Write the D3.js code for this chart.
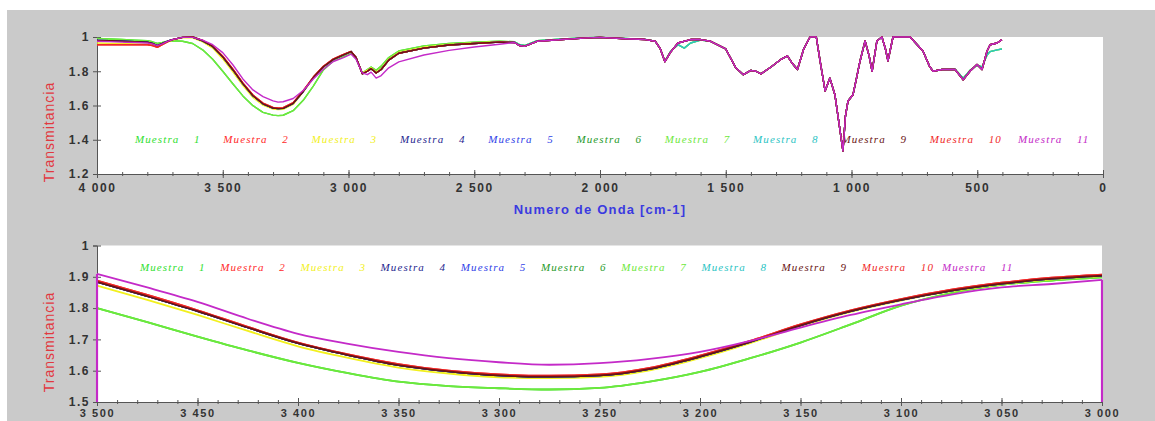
<!DOCTYPE html>
<html>
<head>
<meta charset="utf-8">
<script src="https://cdn.jsdelivr.net/npm/d3@7"></script>
<style>
  html, body { margin: 0; padding: 0; background: #fff; }
  svg { display: block; }
</style>
</head>
<body>
<svg id="fig" width="1155" height="421"></svg>
<script>
// ---------- Espectros IR: número de onda [cm-1] y transmitancia ----------

// Tramo alto (4000 -> 2400 cm-1), un perfil por grupo de muestras
const cabezaComun = [[4000,1.980],[3950,1.978],[3900,1.975],[3850,1.972],[3800,1.970],[3780,1.963],[3760,1.950],[3740,1.962],[3720,1.975],[3700,1.985],[3660,1.998],[3620,2.000],[3580,1.978],[3540,1.945],[3500,1.884],[3460,1.809],[3420,1.728],[3380,1.657],[3340,1.610],[3300,1.585],[3280,1.582],[3260,1.583],[3220,1.613],[3180,1.682],[3140,1.763],[3100,1.826],[3060,1.869],[3020,1.896],[2990,1.915],[2970,1.880],[2945,1.785],[2925,1.800],[2910,1.815],[2890,1.790],[2870,1.810],[2840,1.865],[2800,1.905],[2700,1.935],[2600,1.953],[2500,1.962],[2400,1.970]];
const cabezaMuestra1 = [[4000,1.992],[3950,1.988],[3900,1.985],[3850,1.982],[3800,1.978],[3780,1.972],[3760,1.962],[3740,1.968],[3720,1.975],[3700,1.978],[3660,1.975],[3620,1.962],[3580,1.925],[3540,1.870],[3500,1.800],[3460,1.727],[3420,1.656],[3380,1.599],[3340,1.560],[3300,1.544],[3280,1.541],[3260,1.543],[3220,1.570],[3180,1.630],[3140,1.713],[3100,1.808],[3060,1.862],[3020,1.886],[2990,1.905],[2970,1.875],[2945,1.790],[2925,1.810],[2910,1.825],[2890,1.805],[2870,1.830],[2840,1.880],[2800,1.918],[2700,1.948],[2600,1.963],[2500,1.970],[2400,1.976]];
const cabezaMuestra2 = [[4000,1.955],[3950,1.955],[3900,1.955],[3850,1.955],[3800,1.955],[3780,1.950],[3760,1.940],[3740,1.955],[3720,1.972],[3700,1.985],[3660,1.998],[3620,2.000],[3580,1.980],[3540,1.948],[3500,1.888],[3460,1.813],[3420,1.732],[3380,1.661],[3340,1.614],[3300,1.589],[3280,1.586],[3260,1.587],[3220,1.617],[3180,1.686],[3140,1.766],[3100,1.829],[3060,1.872],[3020,1.898],[2990,1.916],[2970,1.880],[2945,1.785],[2925,1.800],[2910,1.815],[2890,1.790],[2870,1.810],[2840,1.865],[2800,1.905],[2700,1.935],[2600,1.953],[2500,1.962],[2400,1.970]];
const cabezaMuestra3 = [[4000,1.965],[3950,1.963],[3900,1.962],[3850,1.960],[3800,1.958],[3780,1.955],[3760,1.948],[3740,1.958],[3720,1.970],[3700,1.982],[3660,1.995],[3620,1.995],[3580,1.972],[3540,1.935],[3500,1.872],[3460,1.797],[3420,1.717],[3380,1.647],[3340,1.602],[3300,1.579],[3280,1.576],[3260,1.578],[3220,1.606],[3180,1.678],[3140,1.759],[3100,1.824],[3060,1.867],[3020,1.894],[2990,1.912],[2970,1.880],[2945,1.790],[2925,1.805],[2910,1.820],[2890,1.795],[2870,1.815],[2840,1.870],[2800,1.910],[2700,1.940],[2600,1.957],[2500,1.965],[2400,1.972]];
const cabezaMuestra11 = [[4000,1.975],[3950,1.973],[3900,1.970],[3850,1.968],[3800,1.965],[3780,1.960],[3760,1.950],[3740,1.960],[3720,1.974],[3700,1.985],[3660,1.998],[3620,1.998],[3580,1.982],[3540,1.955],[3500,1.909],[3460,1.838],[3420,1.755],[3380,1.691],[3340,1.652],[3300,1.627],[3280,1.620],[3260,1.622],[3220,1.641],[3180,1.688],[3140,1.755],[3100,1.812],[3060,1.857],[3020,1.880],[2990,1.900],[2970,1.870],[2945,1.790],[2925,1.780],[2910,1.795],[2890,1.760],[2870,1.775],[2840,1.820],[2800,1.855],[2700,1.895],[2600,1.922],[2500,1.942],[2400,1.958]];

// Tramo bajo (2340 -> 402 cm-1), zona de huella
const colaComun = [[2340,1.968],[2320,1.950],[2300,1.945],[2250,1.975],[2150,1.985],[2050,1.995],[2000,1.998],[1900,1.990],[1820,1.985],[1780,1.975],[1760,1.930],[1742,1.856],[1720,1.910],[1690,1.965],[1640,1.985],[1600,1.985],[1560,1.975],[1500,1.930],[1460,1.820],[1430,1.780],[1400,1.805],[1380,1.800],[1360,1.785],[1320,1.825],[1280,1.870],[1255,1.890],[1235,1.845],[1215,1.810],[1190,1.930],[1165,2.000],[1140,2.000],[1125,1.860],[1105,1.685],[1086,1.760],[1066,1.663],[1050,1.500],[1034,1.335],[1024,1.540],[1014,1.626],[994,1.663],[980,1.760],[966,1.860],[946,1.977],[930,1.890],[918,1.800],[899,1.977],[879,2.000],[865,1.930],[855,1.860],[835,2.000],[767,2.000],[716,1.918],[690,1.830],[676,1.800],[640,1.810],[588,1.810],[556,1.750],[529,1.800],[501,1.840],[481,1.810],[461,1.918],[449,1.955],[421,1.965],[402,1.985]];
const colaVerde = [[2340,1.972],[2320,1.955],[2300,1.950],[2250,1.978],[2150,1.988],[2050,1.996],[2000,1.998],[1900,1.992],[1820,1.986],[1780,1.975],[1760,1.930],[1742,1.858],[1720,1.915],[1690,1.955],[1665,1.935],[1640,1.965],[1600,1.982],[1560,1.975],[1500,1.930],[1460,1.820],[1430,1.780],[1400,1.805],[1380,1.800],[1360,1.785],[1320,1.825],[1280,1.870],[1255,1.890],[1235,1.845],[1215,1.810],[1190,1.930],[1165,2.000],[1140,2.000],[1125,1.860],[1105,1.685],[1086,1.760],[1066,1.663],[1050,1.500],[1034,1.335],[1024,1.540],[1014,1.626],[994,1.663],[980,1.760],[966,1.860],[946,1.977],[930,1.890],[918,1.800],[899,1.977],[879,2.000],[865,1.930],[855,1.860],[835,2.000],[767,2.000],[716,1.918],[690,1.830],[676,1.800],[640,1.810],[588,1.812],[556,1.760],[529,1.805],[501,1.835],[481,1.825],[461,1.895],[449,1.915],[421,1.925],[402,1.930]];

// Ampliación 3500 -> 3000 cm-1
const ondaZoom = [3500,3475,3450,3425,3400,3375,3350,3325,3300,3275,3250,3225,3200,3175,3150,3125,3100,3075,3050,3025,3000];
const zoomComun    = [1.884,1.838,1.790,1.738,1.688,1.650,1.618,1.598,1.585,1.581,1.585,1.606,1.645,1.692,1.745,1.790,1.826,1.856,1.878,1.894,1.904];
const zoomMuestra1 = [1.800,1.755,1.709,1.665,1.625,1.592,1.565,1.551,1.544,1.540,1.545,1.565,1.596,1.640,1.690,1.748,1.808,1.848,1.874,1.888,1.898];
const zoomMuestra2 = [1.888,1.842,1.793,1.740,1.690,1.652,1.621,1.600,1.588,1.584,1.588,1.609,1.648,1.695,1.748,1.793,1.829,1.859,1.881,1.897,1.907];
const zoomMuestra3 = [1.872,1.826,1.778,1.727,1.678,1.641,1.610,1.591,1.579,1.576,1.580,1.601,1.640,1.688,1.742,1.788,1.824,1.854,1.876,1.892,1.902];
const zoomMuestra11 = [1.909,1.866,1.820,1.766,1.718,1.686,1.660,1.640,1.627,1.619,1.624,1.638,1.660,1.695,1.738,1.778,1.812,1.843,1.866,1.877,1.890];
// Caída vertical de la muestra 11 en los extremos de la ampliación
const caidaBordesMuestra11 = [[[3500,1.5],[3500,1.909]],[[3000,1.890],[3000,1.5]]];

// Ejes
const ticksOndaSup = [4000,3500,3000,2500,2000,1500,1000,500,0];
const etiquetasOndaSup = ["4 000","3 500","3 000","2 500","2 000","1 500","1 000","500","0"];
const ticksTransSup = [1.2,1.4,1.6,1.8,2];
const etiquetasTransSup = ["1.2","1.4","1.6","1.8","1"];
const ticksOndaInf = [3500,3450,3400,3350,3300,3250,3200,3150,3100,3050,3000];
const etiquetasOndaInf = ["3 500","3 450","3 400","3 350","3 300","3 250","3 200","3 150","3 100","3 050","3 000"];
const ticksTransInf = [1.5,1.6,1.7,1.8,1.9,2];
const etiquetasTransInf = ["1.5","1.6","1.7","1.8","1.9","1"];

// Leyenda
const muestras = ["1","2","3","4","5","6","7","8","9","10","11"];
const coloresMuestra = ["#2fe02f","#ff2a2a","#f2f01e","#1f1f8f","#2f3fe8","#1f9a2a","#6ee83c","#2cc4c4","#6a1414","#f02828","#c42ac8"];

// Perfil de cada muestra (índice = muestra - 1)
const perfilSup = [
  cabezaMuestra1.concat(colaVerde),   // 1
  cabezaMuestra2.concat(colaComun),   // 2
  cabezaMuestra3.concat(colaComun),   // 3
  cabezaComun.concat(colaComun),      // 4
  cabezaComun.concat(colaComun),      // 5
  cabezaComun.concat(colaComun),      // 6
  cabezaMuestra1.concat(colaVerde),   // 7
  cabezaComun.concat(colaVerde),      // 8
  cabezaComun.concat(colaComun),      // 9
  cabezaMuestra2.concat(colaComun),   // 10
  cabezaMuestra11.concat(colaComun)   // 11
];
const juntar = vals => ondaZoom.map((w, i) => [w, vals[i]]);
const perfilInf = [
  juntar(zoomMuestra1), juntar(zoomMuestra2), juntar(zoomMuestra3),
  juntar(zoomComun), juntar(zoomComun), juntar(zoomComun),
  juntar(zoomMuestra1), juntar(zoomComun), juntar(zoomComun),
  juntar(zoomMuestra2), juntar(zoomMuestra11)
];
// Orden de dibujo: las curvas oscuras quedan encima
const ordenDibujo = [0, 6, 2, 7, 5, 4, 3, 1, 9, 8, 10];

// ---------- Dibujo ----------
const svg = d3.select("#fig");
svg.append("rect").attr("x", 7).attr("y", 10).attr("width", 1148).attr("height", 411).attr("fill", "#cacaca");

function panel(opts) {
  const { x, y, id, ticksX, etiqX, minorX, ticksY, etiqY, perfiles, anchoLinea, curva, leyenda, tituloY, tamEtiq } = opts;
  const [x0, x1] = x.range();
  const [y1, y0] = y.range();
  const g = svg.append("g");

  g.append("rect").attr("x", x0).attr("y", y0).attr("width", x1 - x0).attr("height", y1 - y0).attr("fill", "#fff");

  svg.append("defs").append("clipPath").attr("id", id)
    .append("rect").attr("x", x0 - 1.5).attr("y", y0 - 1).attr("width", x1 - x0 + 3).attr("height", y1 - y0 + 1);

  // Leyenda
  const ley = g.append("g").attr("font-family", "'Liberation Serif', 'Times New Roman', serif")
    .attr("font-style", "italic").attr("font-size", 11);
  muestras.forEach((m, i) => {
    const t = ley.append("text")
      .attr("x", leyenda.x0 + i * leyenda.paso).attr("y", leyenda.y)
      .attr("fill", coloresMuestra[i]).attr("letter-spacing", 1.1);
    t.append("tspan").text("Muestra");
    t.append("tspan").attr("x", leyenda.x0 + i * leyenda.paso + 59).text(m);
  });

  // Eje X: menores y principales
  g.append("g").attr("transform", `translate(0,${y1})`)
    .call(d3.axisBottom(x).tickValues(minorX).tickFormat("").tickSizeOuter(0).tickSize(2))
    .call(s => s.select(".domain").remove())
    .call(s => s.selectAll(".tick line").attr("y1", -2).attr("y2", 2).attr("stroke", "#555"));
  const ax = g.append("g").attr("transform", `translate(0,${y1})`)
    .call(d3.axisBottom(x).tickValues(ticksX).tickFormat((d, i) => etiqX[i]).tickSizeOuter(0).tickSize(4));
  ax.select(".domain").attr("stroke", "#555");
  ax.selectAll(".tick line").attr("y1", -4).attr("y2", 4).attr("stroke", "#555");
  ax.selectAll(".tick text").attr("y", tamEtiq.y).attr("fill", "#333")
    .attr("font-family", "'Liberation Sans', Arial, sans-serif").attr("font-weight", "bold")
    .attr("font-size", tamEtiq.size).attr("letter-spacing", 1.6);

  // Eje Y
  const ay = g.append("g").attr("transform", `translate(${x0},0)`)
    .call(d3.axisLeft(y).tickValues(ticksY).tickFormat((d, i) => etiqY[i]).tickSizeOuter(0).tickSize(4));
  ay.select(".domain").attr("stroke", "#555");
  ay.selectAll(".tick line").attr("x1", -4).attr("x2", 4).attr("stroke", "#555");
  ay.selectAll(".tick text").attr("x", -7).attr("fill", "#333")
    .attr("font-family", "'Liberation Sans', Arial, sans-serif").attr("font-weight", "bold")
    .attr("font-size", 12).attr("letter-spacing", 1.5);

  // Curvas (encima de los ejes, recortadas al área del gráfico)
  const linea = d3.line().x(d => x(d[0])).y(d => y(d[1])).curve(curva);
  const lg = g.append("g").attr("clip-path", `url(#${id})`);
  ordenDibujo.forEach(i => {
    lg.append("path").attr("d", linea(perfiles[i])).attr("fill", "none")
      .attr("stroke", coloresMuestra[i]).attr("stroke-width", anchoLinea)
      .attr("stroke-linejoin", "round");
  });

  // Título del eje Y
  g.append("text").attr("transform", `translate(${tituloY.x},${tituloY.y}) rotate(-90)`)
    .attr("text-anchor", "middle").attr("dominant-baseline", "central")
    .attr("font-family", "'Liberation Sans', Arial, sans-serif").attr("font-size", 14)
    .attr("letter-spacing", 1).attr("fill", "#e2383f").text("Transmitancia");
  return lg;
}

const xSup = d3.scaleLinear().domain([4000, 0]).range([97, 1103]);
const ySup = d3.scaleLinear().domain([1.2, 2]).range([174, 37]);
const xInf = d3.scaleLinear().domain([3500, 3000]).range([97, 1102]);
const yInf = d3.scaleLinear().domain([1.5, 2]).range([402, 245.5]);

panel({
  x: xSup, y: ySup, id: "clipSup",
  ticksX: ticksOndaSup, etiqX: etiquetasOndaSup, minorX: d3.range(0, 4001, 100),
  ticksY: ticksTransSup, etiqY: etiquetasTransSup,
  perfiles: perfilSup, anchoLinea: 1.4, curva: d3.curveLinear,
  leyenda: { x0: 135, paso: 88.3, y: 143 },
  tituloY: { x: 49, y: 132 },
  tamEtiq: { size: 12, y: 9 }
});

svg.append("text").attr("x", 600).attr("y", 209)
  .attr("text-anchor", "middle").attr("dominant-baseline", "central")
  .attr("font-family", "'Liberation Sans', Arial, sans-serif").attr("font-weight", "bold")
  .attr("font-size", 13).attr("letter-spacing", 1.2).attr("fill", "#3a3ae0")
  .text("Numero de Onda [cm-1]");

const curvasInf = panel({
  x: xInf, y: yInf, id: "clipInf",
  ticksX: ticksOndaInf, etiqX: etiquetasOndaInf, minorX: d3.range(3000, 3501, 10),
  ticksY: ticksTransInf, etiqY: etiquetasTransInf,
  perfiles: perfilInf, anchoLinea: 1.8, curva: d3.curveMonotoneX,
  leyenda: { x0: 140, paso: 80.2, y: 271 },
  tituloY: { x: 49, y: 342 },
  tamEtiq: { size: 11, y: 7 }
});

// Tramos verticales de la muestra 11 en los bordes
const lineaRecta = d3.line().x(d => xInf(d[0])).y(d => yInf(d[1]));
caidaBordesMuestra11.forEach(tramo => {
  curvasInf.append("path").attr("d", lineaRecta(tramo)).attr("fill", "none")
    .attr("stroke", coloresMuestra[10]).attr("stroke-width", 2.2);
});
</script>
</body>
</html>
